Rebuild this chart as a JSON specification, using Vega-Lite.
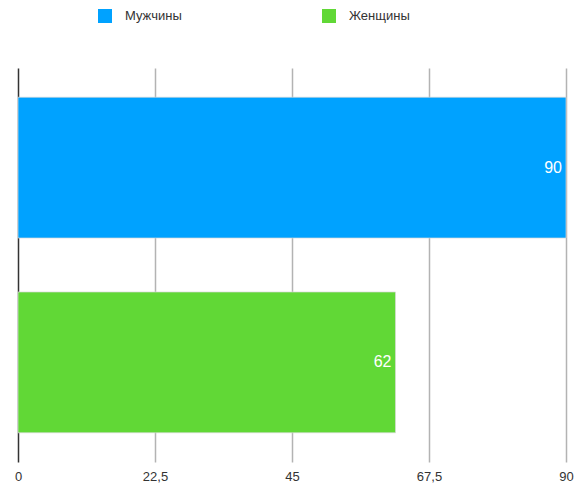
{
  "$schema": "https://vega.github.io/schema/vega-lite/v6.json",
  "autosize": {"type": "none"},
  "width": 548,
  "height": 394,
  "padding": {"left": 18, "top": 68, "right": 12, "bottom": 26},
  "background": "white",
  "config": {"view": {"stroke": null}, "font": "Liberation Sans"},
  "data": {"values": [
    {"group": "Мужчины", "value": 90},
    {"group": "Женщины", "value": 62}
  ]},
  "encoding": {
    "y": {"field": "group", "type": "nominal", "sort": ["Мужчины", "Женщины"], "axis": null,
          "scale": {"paddingInner": 0.277, "paddingOuter": 0.15}},
    "x": {"field": "value", "type": "quantitative",
          "scale": {"domain": [0, 90], "nice": false},
          "axis": {"title": null, "values": [0, 22.5, 45, 67.5, 90], "domain": false, "ticks": false,
                   "grid": true, "gridWidth": 1.5,
                   "gridColor": {"condition": {"test": "datum.value === 0", "value": "#333333"}, "value": "#b3b3b3"},
                   "labelExpr": "replace(format(datum.value, '.1~f'), '.', ',')", "labelFontSize": 13, "labelColor": "#333333",
                   "labelPadding": 8, "labelFlush": false}}
  },
  "layer": [
    {"mark": {"type": "bar", "stroke": "#d8d8d8", "strokeWidth": 0.7},
     "encoding": {"color": {"field": "group", "type": "nominal",
        "scale": {"domain": ["Мужчины", "Женщины"], "range": ["#00A2FF", "#61D836"]},
        "legend": {"title": null, "orient": "none", "direction": "horizontal", "legendX": 80, "legendY": -59,
                   "symbolType": "square", "symbolSize": 196, "symbolStrokeWidth": 0, "symbolOpacity": 1,
                   "labelFontSize": 13, "labelColor": "#333333", "labelOffset": 13, "columnPadding": 140}}}},
    {"mark": {"type": "text", "align": "right", "dx": -4, "color": "white", "fontSize": 16},
     "encoding": {"text": {"field": "value", "type": "quantitative"}}}
  ]
}
